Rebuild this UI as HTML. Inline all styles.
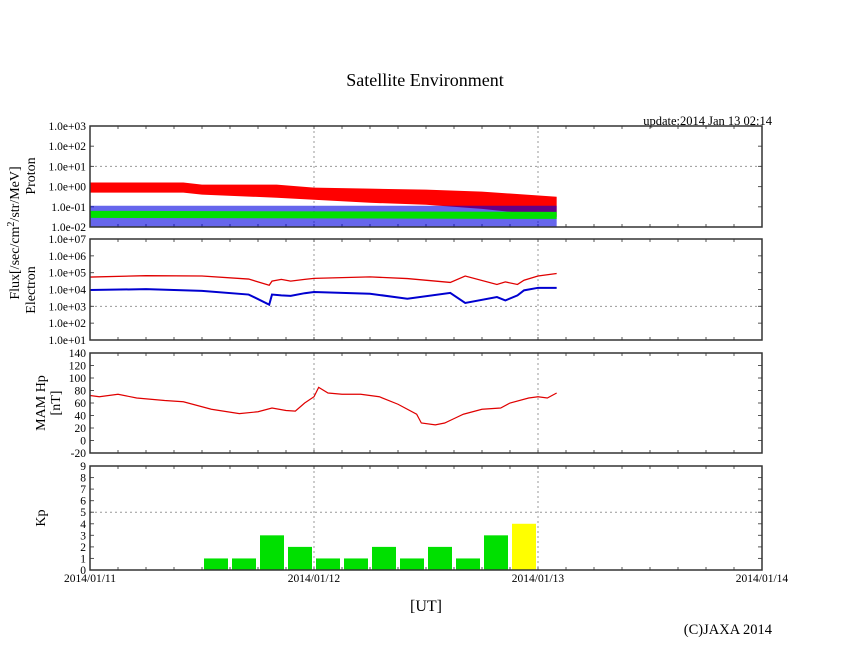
<!DOCTYPE html>
<html><head><meta charset="utf-8"><style>
body{margin:0;background:#fff}
svg{display:block;font-family:"Liberation Serif",serif}
</style></head><body>
<svg id="c" width="846" height="655" xmlns="http://www.w3.org/2000/svg">
<text x="425" y="86" text-anchor="middle" font-size="18">Satellite Environment</text>
<text x="772" y="125" text-anchor="end" font-size="12.5">update:2014 Jan 13 02:14</text>
<text transform="translate(19,233) rotate(-90)" text-anchor="middle" font-size="14">Flux[/sec/cm<tspan dy="-5" font-size="10">2</tspan><tspan dy="5">/str/MeV]</tspan></text>
<text transform="translate(35,176) rotate(-90)" text-anchor="middle" font-size="14">Proton</text>
<text transform="translate(35,290) rotate(-90)" text-anchor="middle" font-size="14">Electron</text>
<text transform="translate(45,403) rotate(-90)" text-anchor="middle" font-size="14">MAM Hp</text>
<text transform="translate(60,403) rotate(-90)" text-anchor="middle" font-size="14">[nT]</text>
<text transform="translate(45,518) rotate(-90)" text-anchor="middle" font-size="14">Kp</text>
<text x="426" y="611" text-anchor="middle" font-size="16">[UT]</text>
<text x="772" y="634" text-anchor="end" font-size="14.5">(C)JAXA 2014</text>
</svg>
<script>
// time in hours from 2014/01/11 00:00
const dayLabels=["2014/01/11","2014/01/12","2014/01/13","2014/01/14"];
const protonTicks=["1.0e+03","1.0e+02","1.0e+01","1.0e+00","1.0e-01","1.0e-02"];
const electronTicks=["1.0e+07","1.0e+06","1.0e+05","1.0e+04","1.0e+03","1.0e+02","1.0e+01"];
const mamTicks=[140,120,100,80,60,40,20,0,-20];
const kpTicks=[9,8,7,6,5,4,3,2,1,0];
// proton bands: hours, log10 hi, log10 lo
const pRedH=[0,10,12,20,24,30,36,42,50];
const pRedHi=[0.2,0.2,0.1,0.1,-0.05,-0.1,-0.15,-0.25,-0.5];
const pRedLo=[-0.3,-0.3,-0.4,-0.55,-0.65,-0.8,-0.9,-1.1,-1.5];
const pBlueH=[0,50];const pBlueHi=[-0.95,-0.95];const pBlueLo=[-2,-2];
const pGreenH=[0,50];const pGreenHi=[-1.2,-1.25];const pGreenLo=[-1.55,-1.6];
// electron log10 values
const eH=[0,6,12,17,19.2,19.5,20.5,21.5,23,24,30,34,38.6,40.2,43.6,44.5,45.8,46.5,48,50];
const eRed=[4.74,4.82,4.8,4.62,4.25,4.5,4.6,4.5,4.6,4.66,4.75,4.65,4.42,4.8,4.3,4.45,4.3,4.55,4.8,4.95];
const eBlue=[3.97,4.02,3.92,3.7,3.1,3.7,3.65,3.62,3.78,3.85,3.75,3.45,3.8,3.2,3.55,3.35,3.65,3.95,4.1,4.1];
// MAM Hp nT
const mH=[0,1,3,5,8,10,13,16,18,19.5,21,22,23,24,24.5,25.5,27,29,31,33,35,35.5,37,38,39,40,42,44,45,47,48,49,50];
const mV=[72,70,74,68,64,62,50,43,46,52,48,47,60,70,85,76,74,74,70,58,42,28,25,28,35,42,50,52,60,68,70,68,76];
// Kp 3-hour bins
const kpBin=[4,5,6,7,8,9,10,11,12,13,14,15];
const kpVal=[1,1,3,2,1,1,2,1,2,1,3,4];
const kpColor=["#00e000","#00e000","#00e000","#00e000","#00e000","#00e000","#00e000","#00e000","#00e000","#00e000","#00e000","#ffff00"];

const NS="http://www.w3.org/2000/svg",svg=document.getElementById('c');
const X0=90,X1=762;
const x=h=>X0+(X1-X0)*h/72;
function el(t,a,p){const e=document.createElementNS(NS,t);for(const k in a)e.setAttribute(k,a[k]);(p||svg).appendChild(e);return e;}
const panels=[{t:126,b:227},{t:239,b:340},{t:353,b:453},{t:466,b:570}];
const yP=v=>126+(3-v)*(101/5);
const yE=v=>239+(7-v)*(101/6);
const yM=v=>453-(v+20)*100/160;
const yK=v=>570-v*104/9;

panels.forEach((p,i)=>{
  for(let d=1;d<=2;d++){const l=el('line',{x1:x(d*24),x2:x(d*24),y1:p.t,y2:p.b,stroke:'#999','stroke-dasharray':'2,3'});
  }
  for(let h=3;h<72;h+=3){el('line',{x1:x(h),x2:x(h),y1:p.t,y2:p.t+3,stroke:'#555'});el('line',{x1:x(h),x2:x(h),y1:p.b,y2:p.b-3,stroke:'#555'});}
});
function hgrid(y){const l=el('line',{x1:X0,x2:X1,y1:y,y2:y,stroke:'#999','stroke-dasharray':'2,3'});
}
hgrid(yP(1));hgrid(yE(3));hgrid(yK(5));

function yticks(labels,fy,name){labels.forEach(s=>{const v=typeof s==='number'?s:Math.log10(parseFloat(s));const y=fy(v);
 const t=el('text',{x:86,y:y+4,'text-anchor':'end','font-size':'11.5'});t.textContent=s;
 
 el('line',{x1:X0,x2:X0+4,y1:y,y2:y,stroke:'#555'});el('line',{x1:X1,x2:X1-4,y1:y,y2:y,stroke:'#555'});});}
yticks(protonTicks,yP,'proton-tick-label');yticks(electronTicks,yE,'electron-tick-label');
yticks(mamTicks,yM,'mam-tick-label');yticks(kpTicks,yK,'kp-tick-label');

function band(H,hi,lo,fy,col,name,op){let pts=H.map((h,i)=>x(h)+','+fy(hi[i]));
 for(let i=H.length-1;i>=0;i--)pts.push(x(H[i])+','+fy(lo[i]));
 const p=el('polygon',{points:pts.join(' '),fill:col,'fill-opacity':op});}
band(pRedH,pRedHi,pRedLo,yP,'#ff0000','proton-red-series',1);
band(pBlueH,pBlueHi,pBlueLo,yP,'#0000e0','proton-blue-series',0.6);
band(pGreenH,pGreenHi,pGreenLo,yP,'#00e000','proton-green-series',1);
function line(H,V,fy,col,name,w){const p=el('polyline',{points:H.map((h,i)=>x(h)+','+fy(V[i])).join(' '),fill:'none',stroke:col,'stroke-width':w});
 }
line(eH,eRed,yE,'#e00000','electron-red-series',1.3);
line(eH,eBlue,yE,'#0000d0','electron-blue-series',2);
line(mH,mV,yM,'#e00000','mam-hp-series',1.2);
kpBin.forEach((b,i)=>{const r=el('rect',{x:x(b*3)+2,y:yK(kpVal[i]),width:x(3)-X0-4,height:570-yK(kpVal[i]),fill:kpColor[i]});
 });

panels.forEach(p=>{const r=el('rect',{x:X0,y:p.t,width:X1-X0,height:p.b-p.t,fill:'none',stroke:'#333','stroke-width':1.5});
 });
dayLabels.forEach((s,i)=>{const t=el('text',{x:x(i*24),y:582,'text-anchor':'middle','font-size':'11.5'});t.textContent=s;
 });
</script>
</body></html>
